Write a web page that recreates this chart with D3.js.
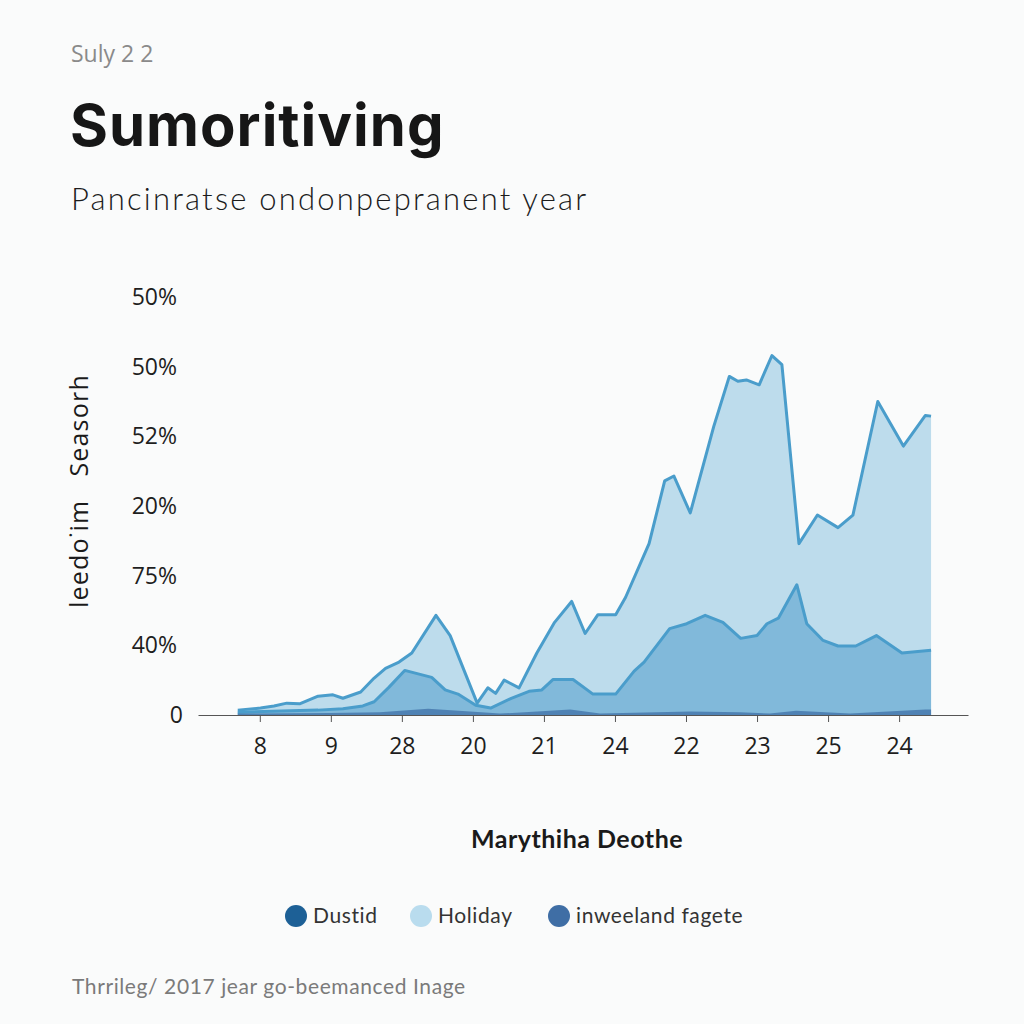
<!DOCTYPE html>
<html>
<head>
<meta charset="utf-8">
<script src="https://cdn.jsdelivr.net/npm/d3@7"></script>
<style>
  html, body { margin: 0; padding: 0; background: #fafbfb; }
  svg { display: block; }
</style>
</head>
<body>
<div id="chart"></div>
<script>
// tick labels as printed on the picture
const xTickLabels = ["8", "9", "28", "20", "21", "24", "22", "23", "25", "24"];
const yTickLabels = ["0", "40%", "75%", "20%", "52%", "50%", "50%"];

// series points: [x position in tick units, value]
const holidayValues = [
  [-0.31, 0.7], [0.01, 1.0], [0.20, 1.3], [0.38, 1.7], [0.56, 1.6], [0.82, 2.7],
  [1.03, 2.9], [1.17, 2.4], [1.42, 3.3], [1.61, 5.3], [1.77, 6.7], [1.96, 7.6],
  [2.14, 8.9], [2.48, 14.3], [2.68, 11.4], [3.06, 1.7], [3.21, 3.9], [3.32, 3.1],
  [3.44, 5.0], [3.65, 3.9], [3.90, 8.9], [4.15, 13.3], [4.39, 16.3], [4.58, 11.7],
  [4.76, 14.4], [5.01, 14.4], [5.15, 16.9], [5.48, 24.6], [5.70, 33.6], [5.83, 34.3],
  [6.06, 29.0], [6.39, 41.4], [6.61, 48.6], [6.73, 47.9], [6.85, 48.1], [7.03, 47.4],
  [7.21, 51.6], [7.35, 50.3], [7.59, 24.6], [7.85, 28.7], [8.14, 26.9], [8.35, 28.7],
  [8.70, 45.0], [9.06, 38.6], [9.37, 43.0], [9.45, 42.9]
];
const dustidValues = [
  [-0.31, 0.4], [0.82, 0.7], [1.17, 0.9], [1.45, 1.3], [1.61, 1.9], [1.82, 4.0],
  [2.04, 6.4], [2.42, 5.4], [2.61, 3.6], [2.79, 3.0], [3.04, 1.4], [3.25, 1.0],
  [3.54, 2.4], [3.79, 3.4], [3.97, 3.6], [4.13, 5.1], [4.41, 5.1], [4.69, 3.0],
  [5.01, 3.0], [5.27, 6.3], [5.41, 7.6], [5.77, 12.4], [6.01, 13.1], [6.27, 14.3],
  [6.52, 13.3], [6.77, 11.0], [7.00, 11.4], [7.14, 13.1], [7.30, 13.9], [7.56, 18.7],
  [7.70, 13.1], [7.93, 10.7], [8.14, 9.9], [8.39, 9.9], [8.68, 11.4], [9.04, 8.9],
  [9.45, 9.3]
];
const weekendValues = [
  [-0.31, 0.2], [0.99, 0.3], [1.69, 0.4], [2.37, 0.9], [2.96, 0.5], [3.38, 0.2],
  [4.37, 0.8], [4.79, 0.2], [6.06, 0.5], [6.76, 0.4], [7.18, 0.2], [7.55, 0.6],
  [8.31, 0.2], [9.37, 0.8], [9.45, 0.8]
];

const legendNames = ["Dustid", "Holiday", "inweeland fagete"];
const legendColors = ["#1d6096", "#b9dcee", "#3f6ea5"];

const W = 1024, H = 1024;
const margin = {top: 297, right: 56, bottom: 309, left: 198};

const svg = d3.select("#chart").append("svg")
  .attr("width", W)
  .attr("height", H)
  .style("font-family", "'Open Sans', 'Noto Sans', sans-serif");

svg.append("rect").attr("width", W).attr("height", H).attr("fill", "#fafbfb");

// header texts
svg.append("text")
  .attr("x", 71).attr("y", 62)
  .attr("font-size", 23).attr("fill", "#8a8a8a")
  .text("Suly 2 2");
svg.append("text")
  .attr("x", 70).attr("y", 146)
  .attr("font-family", "Inter, Lato, sans-serif")
  .attr("font-weight", 700)
  .attr("font-size", 58).attr("letter-spacing", 1)
  .attr("fill", "#161616")
  .text("Sumoritiving");
svg.append("text")
  .attr("x", 71).attr("y", 210)
  .attr("font-family", "Lato, sans-serif")
  .attr("font-weight", 300)
  .attr("font-size", 31).attr("letter-spacing", 2.2)
  .attr("fill", "#1c1c1c")
  .text("Pancinratse ondonpepranent year");

const x = d3.scaleLinear()
  .domain([-0.87, 9.97])
  .range([margin.left, W - margin.right]);
const y = d3.scaleLinear()
  .domain([0, 60])
  .range([H - margin.bottom, margin.top]);

const g = svg.append("g");

const area = d3.area()
  .x(d => x(d[0]))
  .y0(y(0))
  .y1(d => y(d[1]));
const line = d3.line()
  .x(d => x(d[0]))
  .y(d => y(d[1]));

// back to front: light holiday, middle dustid, dark weekend strip
g.append("path").datum(holidayValues)
  .attr("d", area).attr("fill", "#bddcec");
g.append("path").datum(holidayValues)
  .attr("d", line).attr("fill", "none")
  .attr("stroke", "#4a9dcb").attr("stroke-width", 3).attr("stroke-linejoin", "round");

g.append("path").datum(dustidValues)
  .attr("d", area).attr("fill", "#81b9da");
g.append("path").datum(dustidValues)
  .attr("d", line).attr("fill", "none")
  .attr("stroke", "#4a9dcb").attr("stroke-width", 3).attr("stroke-linejoin", "round");

g.append("path").datum(weekendValues)
  .attr("d", area).attr("fill", "#3f70a7").attr("opacity", 0.75);

// x axis
const xAxis = d3.axisBottom(x)
  .tickValues(d3.range(xTickLabels.length))
  .tickFormat(i => xTickLabels[i])
  .tickSize(7)
  .tickSizeOuter(0)
  .tickPadding(16);
const xg = svg.append("g")
  .attr("transform", `translate(0,${y(0)})`)
  .call(xAxis);
xg.select(".domain").attr("stroke", "#555");
xg.selectAll(".tick line").attr("stroke", "#555");
xg.selectAll(".tick text")
  .attr("font-size", 23).attr("fill", "#1e1e1e")
  .attr("font-family", "'Open Sans', sans-serif");

// y axis labels only
const yAxis = d3.axisLeft(y)
  .tickValues(d3.range(0, 61, 10))
  .tickFormat((d, i) => yTickLabels[i])
  .tickSize(0)
  .tickPadding(21);
const yg = svg.append("g")
  .attr("transform", `translate(${margin.left},0)`)
  .call(yAxis);
yg.select(".domain").remove();
yg.selectAll(".tick text")
  .attr("font-size", 23).attr("fill", "#1e1e1e")
  .attr("font-family", "'Open Sans', sans-serif");
yg.selectAll(".tick").filter(d => d === 0).select("text").attr("dx", 6);

// axis titles
svg.append("text")
  .attr("transform", "translate(88,491) rotate(-90)")
  .attr("text-anchor", "middle")
  .style("white-space", "pre")
  .attr("font-size", 25).attr("font-weight", 500)
  .attr("letter-spacing", 1.2).attr("fill", "#1a1a1a")
  .text("leedo˙im   Seasorh");
svg.append("text")
  .attr("x", 577).attr("y", 848)
  .attr("text-anchor", "middle")
  .attr("font-family", "Lato, sans-serif")
  .attr("font-size", 25).attr("font-weight", 700)
  .attr("letter-spacing", 0.5).attr("fill", "#1a1a1a")
  .text("Marythiha Deothe");

// legend
const legendX = [296, 421, 559];
const lg = svg.append("g").attr("transform", "translate(0,916)");
legendNames.forEach((name, i) => {
  lg.append("circle")
    .attr("cx", legendX[i]).attr("cy", 0).attr("r", 11)
    .attr("fill", legendColors[i]);
  lg.append("text")
    .attr("x", legendX[i] + 17).attr("y", 7)
    .attr("font-family", "Lato, sans-serif")
    .attr("font-size", 21).attr("letter-spacing", 0.6)
    .attr("fill", "#333")
    .text(name);
});

// footer note
svg.append("text")
  .attr("x", 72).attr("y", 994)
  .attr("font-family", "Lato, sans-serif")
  .attr("font-size", 21).attr("letter-spacing", 0.6)
  .attr("fill", "#7a7a7a")
  .text("Thrrileg/ 2017 jear go-beemanced Inage");
</script>
</body>
</html>
